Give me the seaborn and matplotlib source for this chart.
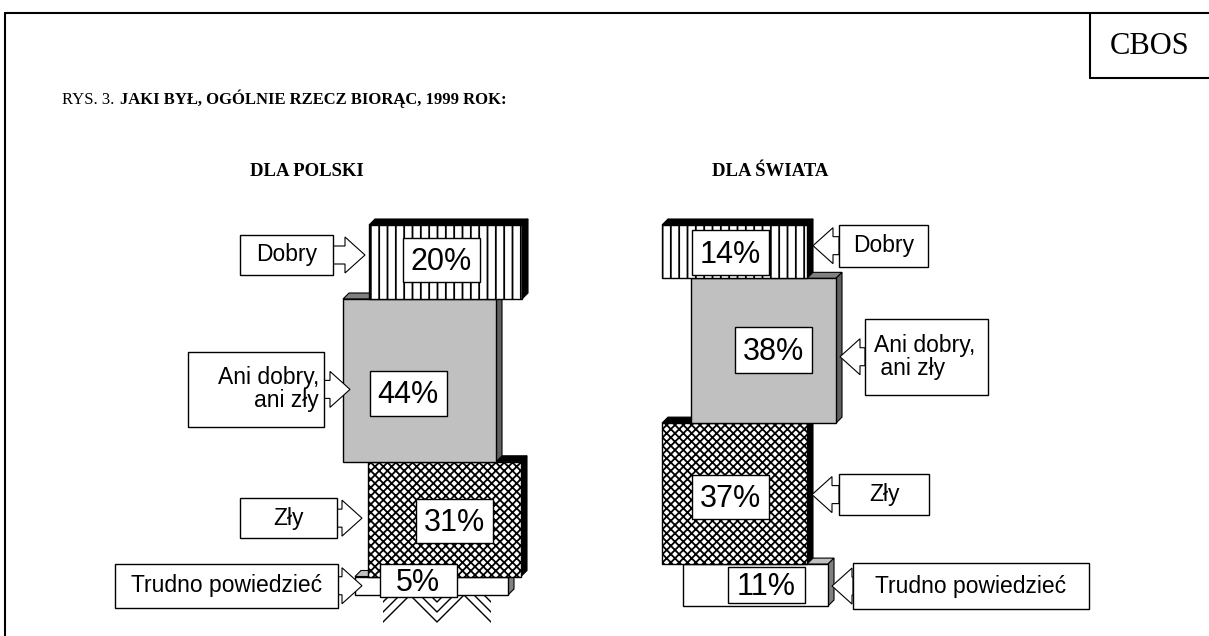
import numpy as np
import matplotlib
matplotlib.use("Agg")
import matplotlib.pyplot as plt
from matplotlib.patches import Polygon, Rectangle
import seaborn as sns

# data
categories = ["Dobry", "Ani dobry, ani zły", "Zły", "Trudno powiedzieć"]
polska = [20, 44, 31, 5]
swiat = [14, 38, 37, 11]
left_labels = ["Dobry", "Ani dobry,\nani zły", "Zły", "Trudno powiedzieć"]
right_labels = ["Dobry", "Ani dobry,\n ani zły", "Zły", "Trudno powiedzieć"]
panel_titles = ["DLA POLSKI", "DLA ŚWIATA"]
title_prefix = "RYS. 3."
title_main = "JAKI BYŁ, OGÓLNIE RZECZ BIORĄC, 1999 ROK:"
source = "CBOS"

# styles per category
front_colors = ["white", "#c0c0c0", "white", "white"]
hatches = ["||", "", "xxxx", ""]
top_colors = ["black", "#808080", "black", "#c0c0c0"]
side_colors = ["black", "#606060", "black", "#808080"]

sns.set_theme(style="white")
plt.rcParams["font.family"] = ["Liberation Sans", "DejaVu Sans"]
plt.rcParams["text.color"] = "black"
plt.rcParams["hatch.linewidth"] = 1.3

W, H = 1209, 636
fig = plt.figure(figsize=(W / 100, H / 100), dpi=100)
fig.patch.set_facecolor("white")

# overlay in pixel coordinates for frame, titles and annotations
ov = fig.add_axes([0, 0, 1, 1])
ov.set_xlim(0, W)
ov.set_ylim(H, 0)
ov.axis("off")

serif = ["Liberation Serif", "DejaVu Serif"]
ov.plot([5, 5], [13, H], color="black", lw=1.5)
ov.plot([5, W], [13, 13], color="black", lw=1.5)
ov.plot([1090, 1090], [13, 78], color="black", lw=1.5)
ov.plot([1090, W], [78, 78], color="black", lw=1.5)
ov.text(1150, 46, source, family=serif, fontsize=22, ha="center", va="center")
t1 = ov.text(62, 100, title_prefix, family=serif, fontsize=12, ha="left", va="center")
ov.annotate(title_main, xy=(1, 0), xycoords=t1, xytext=(4, 0), textcoords="offset points",
            family=serif, fontsize=12, fontweight="bold", ha="left", va="bottom")

panels = [
    dict(values=polska, labels=left_labels, side="left", title_x=307,
         y0=225, y100=595, bar_x=[369, 343, 368, 355], bar_w=153,
         box_x=[(240, 333), (188, 324), (240, 337), (115, 338)], box_h=[40, 75, 40, 44],
         box_dy=[-7, 9, -1, 0], tip_x=[365, 350, 362, 362],
         pct_x=[441, 408, 454, 418], pct_dy=[-2, 13, 2, -5], pct_h=[44, 45, 44, 33]),
    dict(values=swiat, labels=right_labels, side="right", title_x=770,
         y0=225, y100=606, bar_x=[662, 691, 662, 683], bar_w=145,
         box_x=[(839, 928), (865, 988), (839, 929), (853, 1089)], box_h=[42, 76, 41, 46],
         box_dy=[-6, 6, 1, 1], tip_x=[813, 840, 812, 832],
         pct_x=[730, 773, 730, 766], pct_dy=[1, -1, 3, 0], pct_h=[45, 46, 44, 36]),
]

d = 6  # depth of the 3D extrusion in pixels


def to_px(ax, x, y):
    return ov.transData.inverted().transform(ax.transData.transform((x, y)))


for k, p in enumerate(panels):
    ov.text(p["title_x"], 172, panel_titles[k], family=serif, fontsize=13.5,
            fontweight="bold", ha="center", va="center")

    ax = fig.add_axes([0, 0, 1, 1])
    ax.patch.set_alpha(0)
    s = (p["y100"] - p["y0"]) / 100
    ax.set_xlim(0, W)
    ax.set_ylim((H - p["y0"]) / s, -p["y0"] / s)
    ax.axis("off")

    vals = np.array(p["values"], dtype=float)
    bottoms = np.concatenate([[0], np.cumsum(vals)[:-1]])
    bars = ax.bar(p["bar_x"], vals, bottom=bottoms, width=p["bar_w"], align="edge",
                  color=front_colors, edgecolor="black", linewidth=1)

    for i, b in enumerate(bars):
        z = 10 - 2 * i
        b.set_hatch(hatches[i])
        b.set_zorder(z + 1)
        x0 = p["bar_x"][i]
        x1 = x0 + p["bar_w"]
        yt = to_px(ax, x0, bottoms[i])[1]
        yb = to_px(ax, x0, bottoms[i] + vals[i])[1]
        top = Polygon([(x0, yt), (x0 + d, yt - d), (x1 + d, yt - d), (x1, yt)],
                      closed=True, fc=top_colors[i], ec="black", lw=0.8,
                      transform=ov.transData, zorder=z)
        side = Polygon([(x1, yt), (x1 + d, yt - d), (x1 + d, yb - d), (x1, yb)],
                       closed=True, fc=side_colors[i], ec="black", lw=0.8,
                       transform=ov.transData, zorder=z)
        ax.add_patch(top)
        ax.add_patch(side)

        cy = (yt + yb) / 2

        # category label box with block arrow
        bx0, bx1 = p["box_x"][i]
        by = cy + p["box_dy"][i]
        bh = p["box_h"][i]
        ax.add_patch(Rectangle((bx0, by - bh / 2), bx1 - bx0, bh, fc="white", ec="black",
                               lw=1, transform=ov.transData, zorder=15))
        label = p["labels"][i]
        if "\n" in label:
            if p["side"] == "left":
                ax.text(bx1 - 5, by, label, transform=ov.transData, ha="right", va="center",
                        multialignment="right", fontsize=16.5, zorder=16, linespacing=1.0)
            else:
                ax.text(bx0 + 9, by, label, transform=ov.transData, ha="left", va="center",
                        multialignment="left", fontsize=16.5, zorder=16, linespacing=1.0)
        else:
            ax.text((bx0 + bx1) / 2, by, label, transform=ov.transData, ha="center",
                    va="center", fontsize=16.5, zorder=16)

        tx = p["tip_x"][i]
        if p["side"] == "left":
            base, hb = bx1, tx - 20
        else:
            base, hb = bx0, tx + 20
        sh, hh = 9, 18
        arrow = Polygon([(base, by - sh), (hb, by - sh), (hb, by - hh), (tx, by),
                         (hb, by + hh), (hb, by + sh), (base, by + sh)],
                        closed=True, fc="white", ec="black", lw=0.8,
                        transform=ov.transData, zorder=14)
        ax.add_patch(arrow)

        # percentage box
        pcy = cy + p["pct_dy"][i]
        ph = p["pct_h"][i]
        ax.add_patch(Rectangle((p["pct_x"][i] - 38.5, pcy - ph / 2), 77, ph, fc="white",
                               ec="black", lw=1, transform=ov.transData, zorder=20))
        ax.text(p["pct_x"][i], pcy + 2, f"{int(vals[i])}%", transform=ov.transData,
                ha="center", va="center", fontsize=22, zorder=21)

    if p["side"] == "left":
        # stray hatch lines below the last block
        clip = Rectangle((383, 596), 108, 27, transform=ov.transData, fc="none", ec="none")
        ax.add_patch(clip)
        for off in [0, -10, -20]:
            zx = [373, 410, 437, 464, 501]
            zy = [622 + off + 10, 585 + off + 10, 612 + off + 10, 585 + off + 10, 622 + off + 10]
            ln, = ax.plot(zx, zy, color="black", lw=1, transform=ov.transData, zorder=3)
            ln.set_clip_path(clip)

fig.savefig("out.png", dpi=100, facecolor="white")
